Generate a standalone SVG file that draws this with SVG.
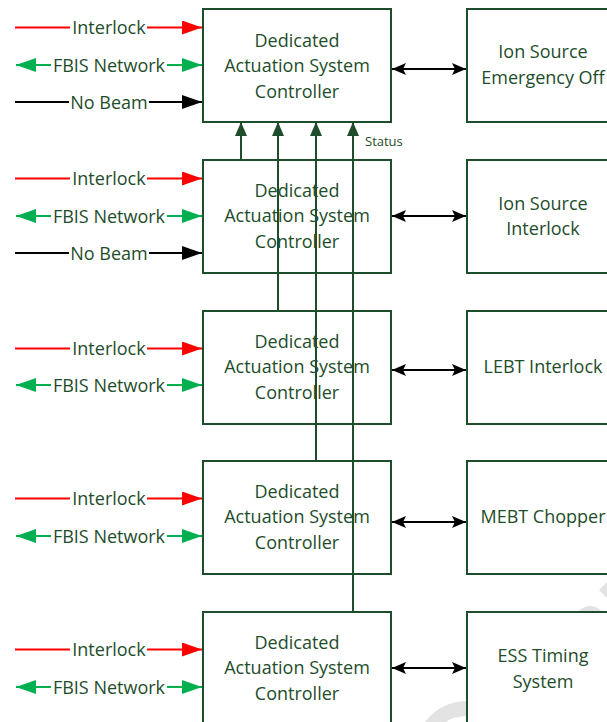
<svg xmlns="http://www.w3.org/2000/svg" width="607" height="722" viewBox="0 0 607 722">
<style>
.box{fill:#fff;stroke:#1E4D2B;stroke-width:2}
.t{font-family:"Open Sans","Liberation Sans",sans-serif;font-size:18px;fill:#1E4D2B;text-anchor:middle}
.s{font-family:"Open Sans","Liberation Sans",sans-serif;font-size:13px;fill:#1E4D2B}
.red{stroke:#FF0000;stroke-width:2;fill:none}
.grn{stroke:#00B050;stroke-width:2;fill:none}
.blk{stroke:#000;stroke-width:2;fill:none}
.st{stroke:#1E4D2B;stroke-width:2;fill:none}
.wm{fill:#E3E3E3}
</style>
<defs>
<marker id="ar" viewBox="0 0 20 14" refX="20" refY="7" markerWidth="20" markerHeight="14" markerUnits="userSpaceOnUse" orient="auto"><path d="M0,0 L20,7 L0,14 Z" fill="#FF0000"/></marker>
<marker id="ag" viewBox="0 0 20 14" refX="20" refY="7" markerWidth="20" markerHeight="14" markerUnits="userSpaceOnUse" orient="auto"><path d="M0,0 L20,7 L0,14 Z" fill="#00B050"/></marker>
<marker id="ab" viewBox="0 0 20 14" refX="20" refY="7" markerWidth="20" markerHeight="14" markerUnits="userSpaceOnUse" orient="auto"><path d="M0,0 L20,7 L0,14 Z" fill="#000"/></marker>
<marker id="ak" viewBox="0 0 14 12" refX="14" refY="6" markerWidth="14" markerHeight="12" markerUnits="userSpaceOnUse" orient="auto-start-reverse"><path d="M0,0 L14,6 L0,12 L3,6 Z" fill="#000"/></marker>
<marker id="as" viewBox="0 0 14 12" refX="14" refY="6" markerWidth="14" markerHeight="12" markerUnits="userSpaceOnUse" orient="auto"><path d="M0,0 L14,6 L0,12 Z" fill="#1E4D2B"/></marker>
</defs>
<g id="watermark">
<path class="wm" d="M425,722 Q442,700 470,701 L470,716 Q452,716 446,722 Z"/>
<ellipse class="wm" cx="590" cy="616" rx="13" ry="10"/>
<polygon class="wm" points="607,582 599,590 607,598"/>
</g>
<g id="ctrl1"><rect class="box" x="203" y="9" width="188" height="113"/>
<text class="t" x="297" y="47">Dedicated</text><text class="t" x="297" y="72">Actuation System</text><text class="t" x="297" y="98">Controller</text></g>
<g id="ctrl2"><rect class="box" x="203" y="160" width="188" height="113"/>
<text class="t" x="297" y="197">Dedicated</text><text class="t" x="297" y="222">Actuation System</text><text class="t" x="297" y="248">Controller</text></g>
<g id="ctrl3"><rect class="box" x="203" y="311" width="188" height="113"/>
<text class="t" x="297" y="348">Dedicated</text><text class="t" x="297" y="373">Actuation System</text><text class="t" x="297" y="399">Controller</text></g>
<g id="ctrl4"><rect class="box" x="203" y="461" width="188" height="113"/>
<text class="t" x="297" y="498">Dedicated</text><text class="t" x="297" y="523">Actuation System</text><text class="t" x="297" y="549">Controller</text></g>
<g id="ctrl5"><rect class="box" x="203" y="612" width="188" height="113"/>
<text class="t" x="297" y="649">Dedicated</text><text class="t" x="297" y="674">Actuation System</text><text class="t" x="297" y="700">Controller</text></g>
<g id="ext1"><rect class="box" x="467" y="9" width="152" height="113"/>
<text class="t" x="543" y="58">Ion Source</text><text class="t" x="543" y="84">Emergency Off</text></g>
<g id="ext2"><rect class="box" x="467" y="160" width="152" height="113"/>
<text class="t" x="543" y="210">Ion Source</text><text class="t" x="543" y="235">Interlock</text></g>
<g id="ext3"><rect class="box" x="467" y="311" width="152" height="113"/>
<text class="t" x="543" y="373">LEBT Interlock</text></g>
<g id="ext4"><rect class="box" x="467" y="461" width="152" height="113"/>
<text class="t" x="543" y="523">MEBT Chopper</text></g>
<g id="ext5"><rect class="box" x="467" y="612" width="152" height="113"/>
<text class="t" x="543" y="662">ESS Timing</text><text class="t" x="543" y="688">System</text></g>
<g id="connectors">
<!-- status lines -->
<line class="st" x1="241" y1="160" x2="241" y2="122" marker-end="url(#as)"/>
<line class="st" x1="278" y1="311" x2="278" y2="122" marker-end="url(#as)"/>
<line class="st" x1="316" y1="461" x2="316" y2="122" marker-end="url(#as)"/>
<line class="st" x1="353" y1="612" x2="353" y2="122" marker-end="url(#as)"/>
<text class="s" x="365" y="146">Status</text>
<!-- double arrows -->
<line class="blk" x1="392" y1="69" x2="466" y2="69" marker-start="url(#ak)" marker-end="url(#ak)"/>
<line class="blk" x1="392" y1="216" x2="466" y2="216" marker-start="url(#ak)" marker-end="url(#ak)"/>
<line class="blk" x1="392" y1="370" x2="466" y2="370" marker-start="url(#ak)" marker-end="url(#ak)"/>
<line class="blk" x1="392" y1="522" x2="466" y2="522" marker-start="url(#ak)" marker-end="url(#ak)"/>
<line class="blk" x1="392" y1="668" x2="466" y2="668" marker-start="url(#ak)" marker-end="url(#ak)"/>
<!-- group 1 -->
<line class="red" x1="15" y1="27.5" x2="70" y2="27.5"/><line class="red" x1="147" y1="27.5" x2="202" y2="27.5" marker-end="url(#ar)"/>
<text class="t" x="109" y="34">Interlock</text>
<line class="grn" x1="51" y1="65" x2="16" y2="65" marker-end="url(#ag)"/><line class="grn" x1="167" y1="65" x2="202" y2="65" marker-end="url(#ag)"/>
<text class="t" x="109" y="72">FBIS Network</text>
<line class="blk" x1="15" y1="102" x2="69" y2="102"/><line class="blk" x1="149" y1="102" x2="202" y2="102" marker-end="url(#ab)"/>
<text class="t" x="109" y="109">No Beam</text>
<!-- group 2 -->
<line class="red" x1="15" y1="178.5" x2="70" y2="178.5"/><line class="red" x1="147" y1="178.5" x2="202" y2="178.5" marker-end="url(#ar)"/>
<text class="t" x="109" y="185">Interlock</text>
<line class="grn" x1="51" y1="216" x2="16" y2="216" marker-end="url(#ag)"/><line class="grn" x1="167" y1="216" x2="202" y2="216" marker-end="url(#ag)"/>
<text class="t" x="109" y="223">FBIS Network</text>
<line class="blk" x1="15" y1="253" x2="69" y2="253"/><line class="blk" x1="149" y1="253" x2="202" y2="253" marker-end="url(#ab)"/>
<text class="t" x="109" y="260">No Beam</text>
<!-- group 3 -->
<line class="red" x1="15" y1="348.5" x2="70" y2="348.5"/><line class="red" x1="147" y1="348.5" x2="202" y2="348.5" marker-end="url(#ar)"/>
<text class="t" x="109" y="355">Interlock</text>
<line class="grn" x1="51" y1="385" x2="16" y2="385" marker-end="url(#ag)"/><line class="grn" x1="167" y1="385" x2="202" y2="385" marker-end="url(#ag)"/>
<text class="t" x="109" y="392">FBIS Network</text>
<!-- group 4 -->
<line class="red" x1="15" y1="498.5" x2="70" y2="498.5"/><line class="red" x1="147" y1="498.5" x2="202" y2="498.5" marker-end="url(#ar)"/>
<text class="t" x="109" y="505">Interlock</text>
<line class="grn" x1="51" y1="536" x2="16" y2="536" marker-end="url(#ag)"/><line class="grn" x1="167" y1="536" x2="202" y2="536" marker-end="url(#ag)"/>
<text class="t" x="109" y="543">FBIS Network</text>
<!-- group 5 -->
<line class="red" x1="15" y1="649.5" x2="70" y2="649.5"/><line class="red" x1="147" y1="649.5" x2="202" y2="649.5" marker-end="url(#ar)"/>
<text class="t" x="109" y="656">Interlock</text>
<line class="grn" x1="51" y1="687" x2="16" y2="687" marker-end="url(#ag)"/><line class="grn" x1="167" y1="687" x2="202" y2="687" marker-end="url(#ag)"/>
<text class="t" x="109" y="694">FBIS Network</text>
</g>
</svg>
